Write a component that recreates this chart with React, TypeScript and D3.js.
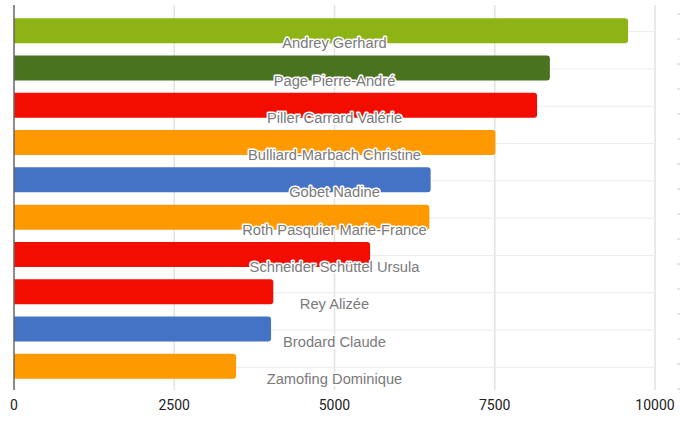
import React, { useEffect, useRef } from 'react';
import * as d3 from 'd3';

const names = [
    'Andrey Gerhard',
    'Page Pierre-André',
    'Piller Carrard Valérie',
    'Bulliard-Marbach Christine',
    'Gobet Nadine',
    'Roth Pasquier Marie-France',
    'Schneider Schüttel Ursula',
    'Rey Alizée',
    'Brodard Claude',
    'Zamofing Dominique',
];
const votes = [9580, 8360, 8160, 7510, 6500, 6480, 5555, 4045, 4010, 3465];
const colors = ['#8db314', '#4a7320', '#f20d00', '#ff9900', '#4472c4', '#ff9900', '#f20d00', '#f20d00', '#4472c4', '#ff9900'];
const xTicks = [0, 2500, 5000, 7500, 10000];

const App: React.FC = () => {
    const svgRef = useRef<SVGSVGElement>(null);

    useEffect(() => {
        if (!svgRef.current) return;
        const svg = d3.select(svgRef.current);
        svg.selectAll('*').remove();

        const width = 680;
        const height = 422;
        const top = 5;
        const bottom = 390;

        const x = d3.scaleLinear().domain([0, 10000]).range([14, 655]);
        const y = d3.scaleBand<string>()
            .domain(names)
            .range([12, 385])
            .paddingInner(0.33)
            .paddingOuter(0.165);

        // vertical grid
        svg.append('g')
            .selectAll('line')
            .data(xTicks.slice(1))
            .join('line')
            .attr('x1', d => x(d))
            .attr('x2', d => x(d))
            .attr('y1', top)
            .attr('y2', bottom)
            .attr('stroke', '#e2e2e2')
            .attr('stroke-width', 1.5);

        // horizontal grid at row centres
        svg.append('g')
            .selectAll('line')
            .data(names)
            .join('line')
            .attr('x1', x(0))
            .attr('x2', x(10000))
            .attr('y1', d => y(d)! + y.bandwidth() / 2 + 1)
            .attr('y2', d => y(d)! + y.bandwidth() / 2 + 1)
            .attr('stroke', '#ececec')
            .attr('stroke-width', 1);

        // little dashes on the right edge
        const dash = d3.scaleLinear().domain([0, 15]).range([14, 389]);
        svg.append('g')
            .selectAll('line')
            .data(d3.range(16))
            .join('line')
            .attr('x1', 677)
            .attr('x2', 680)
            .attr('y1', d => dash(d))
            .attr('y2', d => dash(d))
            .attr('stroke', '#c8c8c8')
            .attr('stroke-width', 1);

        // bars
        svg.append('g')
            .selectAll('path')
            .data(names)
            .join('path')
            .attr('fill', (_, i) => colors[i])
            .attr('d', (d, i) => {
                const x0 = x(0);
                const x1 = x(votes[i]);
                const y0 = y(d)!;
                const h = y.bandwidth();
                const r = 3;
                return `M${x0},${y0}H${x1 - r}Q${x1},${y0} ${x1},${y0 + r}V${y0 + h - r}Q${x1},${y0 + h} ${x1 - r},${y0 + h}H${x0}Z`;
            });

        // axis line
        svg.append('line')
            .attr('x1', x(0))
            .attr('x2', x(0))
            .attr('y1', top)
            .attr('y2', bottom)
            .attr('stroke', '#666')
            .attr('stroke-width', 1.5);

        // names
        svg.append('g')
            .selectAll('text')
            .data(names)
            .join('text')
            .attr('x', (x(0) + x(10000)) / 2)
            .attr('y', d => y(d)! + y.bandwidth())
            .attr('dy', '0.35em')
            .attr('text-anchor', 'middle')
            .attr('fill', '#7a7a7a')
            .attr('stroke', '#ffffff')
            .attr('stroke-width', 3)
            .attr('stroke-linejoin', 'round')
            .attr('paint-order', 'stroke')
            .style('font-family', '"Liberation Sans", Arial, sans-serif')
            .style('font-size', '14.7px')
            .text(d => d);

        // x tick labels
        svg.append('g')
            .selectAll('text')
            .data(xTicks)
            .join('text')
            .attr('x', d => x(d))
            .attr('y', 405)
            .attr('dy', '0.35em')
            .attr('text-anchor', 'middle')
            .attr('fill', '#222')
            .style('font-family', 'Roboto, "Liberation Sans", sans-serif')
            .style('font-size', '14px')
            .text(d => String(d));

        svg.attr('width', width).attr('height', height);
    }, []);

    return (
        <div style={{ position: 'absolute', left: 0, top: 0, background: '#fff' }}>
            <svg ref={svgRef} width={680} height={422} style={{ display: 'block' }} />
        </div>
    );
};

export default App;
